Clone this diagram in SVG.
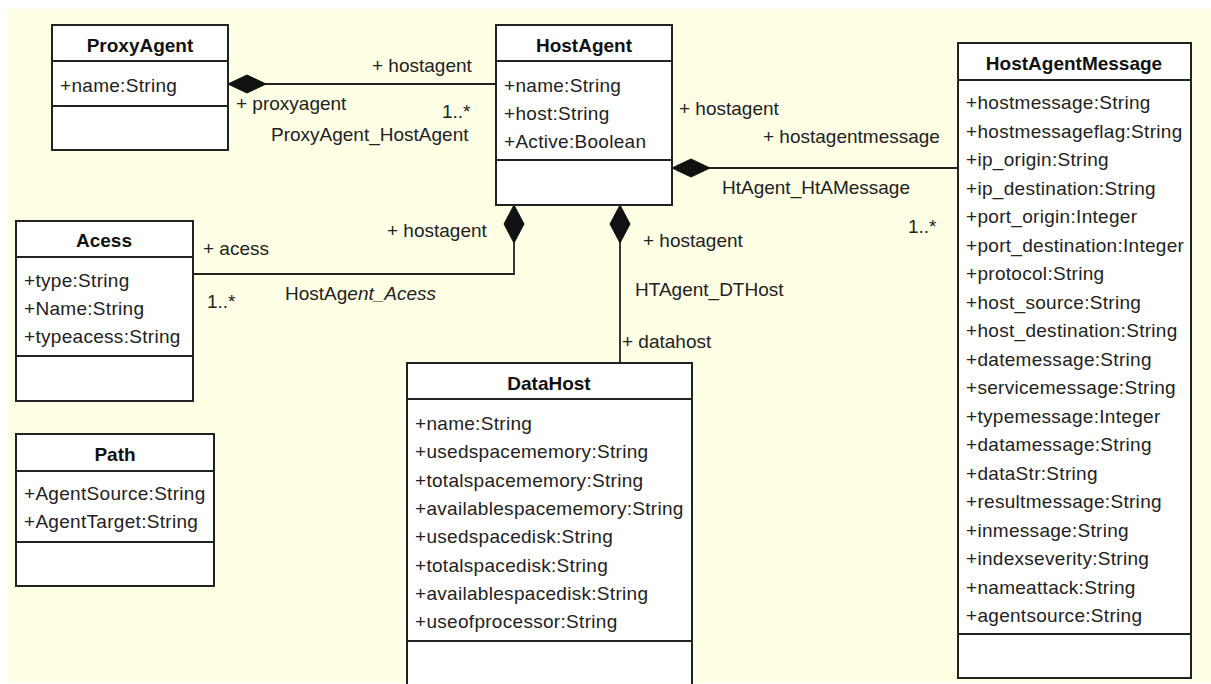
<svg xmlns="http://www.w3.org/2000/svg" width="1211" height="684" viewBox="0 0 1211 684">
<style>
.box{fill:#fff;stroke:#222;stroke-width:2}
.sep{stroke:#222;stroke-width:2}
.title{font-family:"Liberation Sans",Arial,sans-serif;font-size:19px;font-weight:bold;fill:#111;text-anchor:middle}
.attr{font-family:"Liberation Sans",Arial,sans-serif;font-size:19px;fill:#222;letter-spacing:0.3px}
.lbl{font-family:"Liberation Sans",Arial,sans-serif;font-size:19px;fill:#222}
.conn{fill:none;stroke:#222;stroke-width:1.8}
.dia{fill:#111;stroke:#111;stroke-width:1}
</style>
<rect x="7" y="9" width="1204" height="674" fill="#FFFFE6"/>

<g id="connectors">
  <line class="conn" x1="228" y1="84" x2="496" y2="84"/>
  <polygon class="dia" points="228,84 247,75 266,84 247,93"/>
  <line class="conn" x1="672" y1="168" x2="958" y2="168"/>
  <polygon class="dia" points="672,168 691,159 710,168 691,177"/>
  <polyline class="conn" points="193,274 514,274 514,205"/>
  <polygon class="dia" points="514,205 524,224 514,243 504,224"/>
  <line class="conn" x1="620" y1="205" x2="620" y2="363"/>
  <polygon class="dia" points="620,205 630,224 620,243 610,224"/>
  <text class="lbl" x="372" y="72">+ hostagent</text>
  <text class="lbl" x="236" y="110">+ proxyagent</text>
  <text class="lbl" x="442" y="118">1..*</text>
  <text class="lbl" x="271" y="141">ProxyAgent_HostAgent</text>
  <text class="lbl" x="679" y="115">+ hostagent</text>
  <text class="lbl" x="763" y="143">+ hostagentmessage</text>
  <text class="lbl" x="722" y="194">HtAgent_HtAMessage</text>
  <text class="lbl" x="908" y="233">1..*</text>
  <text class="lbl" x="387" y="237">+ hostagent</text>
  <text class="lbl" x="203" y="255">+ acess</text>
  <text class="lbl" x="207" y="308">1..*</text>
  <text class="lbl" x="285" y="300">HostAg<tspan font-style="italic">ent_Acess</tspan></text>
  <text class="lbl" x="643" y="247">+ hostagent</text>
  <text class="lbl" x="635" y="296">HTAgent_DTHost</text>
  <text class="lbl" x="622" y="348">+ datahost</text>
</g>

<g id="ProxyAgent">
  <rect class="box" x="52" y="25" width="176" height="125"/>
  <line class="sep" x1="52" y1="61" x2="228" y2="61"/>
  <line class="sep" x1="52" y1="106" x2="228" y2="106"/>
  <text class="title" x="140" y="52">ProxyAgent</text>
  <text class="attr" x="60" y="92">+name:String</text>
</g>

<g id="HostAgent">
  <rect class="box" x="496" y="25" width="176" height="180"/>
  <line class="sep" x1="496" y1="61" x2="672" y2="61"/>
  <line class="sep" x1="496" y1="160" x2="672" y2="160"/>
  <text class="title" x="584" y="52">HostAgent</text>
  <text class="attr" x="504" y="92">+name:String</text>
  <text class="attr" x="504" y="120">+host:String</text>
  <text class="attr" x="504" y="148">+Active:Boolean</text>
</g>

<g id="HostAgentMessage">
  <rect class="box" x="958" y="43" width="233" height="635"/>
  <line class="sep" x1="958" y1="80" x2="1191" y2="80"/>
  <line class="sep" x1="958" y1="634" x2="1191" y2="634"/>
  <text class="title" x="1074" y="70">HostAgentMessage</text>
  <text class="attr" x="966" y="109">+hostmessage:String</text>
  <text class="attr" x="966" y="137.5">+hostmessageflag:String</text>
  <text class="attr" x="966" y="166">+ip_origin:String</text>
  <text class="attr" x="966" y="194.5">+ip_destination:String</text>
  <text class="attr" x="966" y="223">+port_origin:Integer</text>
  <text class="attr" x="966" y="251.5">+port_destination:Integer</text>
  <text class="attr" x="966" y="280">+protocol:String</text>
  <text class="attr" x="966" y="308.5">+host_source:String</text>
  <text class="attr" x="966" y="337">+host_destination:String</text>
  <text class="attr" x="966" y="365.5">+datemessage:String</text>
  <text class="attr" x="966" y="394">+servicemessage:String</text>
  <text class="attr" x="966" y="422.5">+typemessage:Integer</text>
  <text class="attr" x="966" y="451">+datamessage:String</text>
  <text class="attr" x="966" y="479.5">+dataStr:String</text>
  <text class="attr" x="966" y="508">+resultmessage:String</text>
  <text class="attr" x="966" y="536.5">+inmessage:String</text>
  <text class="attr" x="966" y="565">+indexseverity:String</text>
  <text class="attr" x="966" y="593.5">+nameattack:String</text>
  <text class="attr" x="966" y="622">+agentsource:String</text>
</g>

<g id="Acess">
  <rect class="box" x="16" y="221" width="177" height="180"/>
  <line class="sep" x1="16" y1="257" x2="193" y2="257"/>
  <line class="sep" x1="16" y1="356" x2="193" y2="356"/>
  <text class="title" x="104" y="247">Acess</text>
  <text class="attr" x="24" y="287">+type:String</text>
  <text class="attr" x="24" y="315">+Name:String</text>
  <text class="attr" x="24" y="343">+typeacess:String</text>
</g>

<g id="Path">
  <rect class="box" x="16" y="434" width="198" height="152"/>
  <line class="sep" x1="16" y1="471" x2="214" y2="471"/>
  <line class="sep" x1="16" y1="542" x2="214" y2="542"/>
  <text class="title" x="115" y="461">Path</text>
  <text class="attr" x="24" y="500">+AgentSource:String</text>
  <text class="attr" x="24" y="528">+AgentTarget:String</text>
</g>

<g id="DataHost">
  <rect class="box" x="407" y="363" width="285" height="330"/>
  <line class="sep" x1="407" y1="399" x2="692" y2="399"/>
  <line class="sep" x1="407" y1="641" x2="692" y2="641"/>
  <text class="title" x="549" y="390">DataHost</text>
  <text class="attr" x="415" y="430">+name:String</text>
  <text class="attr" x="415" y="458.3">+usedspacememory:String</text>
  <text class="attr" x="415" y="486.6">+totalspacememory:String</text>
  <text class="attr" x="415" y="514.9">+availablespacememory:String</text>
  <text class="attr" x="415" y="543.2">+usedspacedisk:String</text>
  <text class="attr" x="415" y="571.5">+totalspacedisk:String</text>
  <text class="attr" x="415" y="599.8">+availablespacedisk:String</text>
  <text class="attr" x="415" y="628">+useofprocessor:String</text>
</g>
</svg>
